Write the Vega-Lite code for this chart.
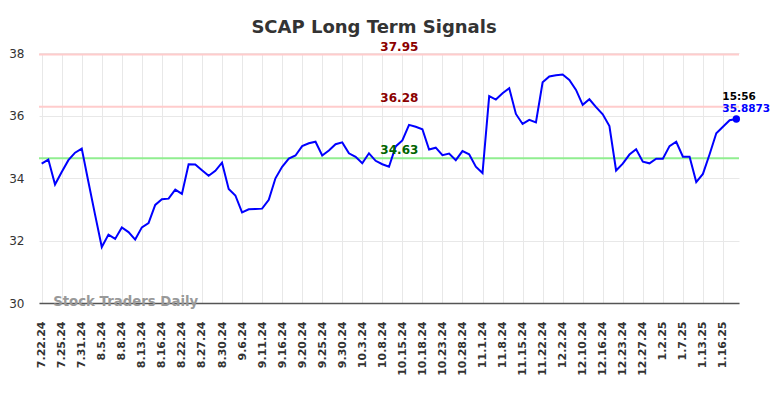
{
  "$schema": "https://vega.github.io/schema/vega-lite/v6.json",
  "width": 700,
  "height": 250,
  "autosize": "none",
  "padding": {"left": 39, "top": 53, "right": 45, "bottom": 95},
  "background": "white",
  "config": {"font": "DejaVu Sans", "view": {"stroke": null}},
  "title": {"text": "SCAP Long Term Signals", "fontSize": 18, "fontWeight": "bold", "color": "#333333", "anchor": "middle", "dx": -15, "offset": -10, "baseline": "alphabetic"},
  "datasets": {
    "series": [
      {"d": "7.22.24", "v": 34.46}, {"d": "7.23.24", "v": 34.59}, {"d": "7.24.24", "v": 33.79},
      {"d": "7.25.24", "v": 34.19}, {"d": "7.26.24", "v": 34.57}, {"d": "7.29.24", "v": 34.81},
      {"d": "7.31.24", "v": 34.94}, {"d": "8.1.24", "v": 33.87}, {"d": "8.2.24", "v": 32.82},
      {"d": "8.5.24", "v": 31.79}, {"d": "8.6.24", "v": 32.19}, {"d": "8.7.24", "v": 32.05},
      {"d": "8.8.24", "v": 32.42}, {"d": "8.9.24", "v": 32.27}, {"d": "8.12.24", "v": 32.03},
      {"d": "8.13.24", "v": 32.42}, {"d": "8.14.24", "v": 32.56}, {"d": "8.15.24", "v": 33.14},
      {"d": "8.16.24", "v": 33.32}, {"d": "8.19.24", "v": 33.34}, {"d": "8.20.24", "v": 33.63},
      {"d": "8.22.24", "v": 33.49}, {"d": "8.23.24", "v": 34.44}, {"d": "8.26.24", "v": 34.43},
      {"d": "8.27.24", "v": 34.25}, {"d": "8.28.24", "v": 34.07}, {"d": "8.29.24", "v": 34.23},
      {"d": "8.30.24", "v": 34.49}, {"d": "9.3.24", "v": 33.65}, {"d": "9.4.24", "v": 33.44},
      {"d": "9.6.24", "v": 32.90}, {"d": "9.9.24", "v": 33.00}, {"d": "9.10.24", "v": 33.01},
      {"d": "9.11.24", "v": 33.02}, {"d": "9.12.24", "v": 33.30}, {"d": "9.13.24", "v": 33.99},
      {"d": "9.16.24", "v": 34.36}, {"d": "9.17.24", "v": 34.62}, {"d": "9.18.24", "v": 34.72},
      {"d": "9.20.24", "v": 35.02}, {"d": "9.23.24", "v": 35.11}, {"d": "9.24.24", "v": 35.16},
      {"d": "9.25.24", "v": 34.72}, {"d": "9.26.24", "v": 34.88}, {"d": "9.27.24", "v": 35.08},
      {"d": "9.30.24", "v": 35.14}, {"d": "10.1.24", "v": 34.79}, {"d": "10.2.24", "v": 34.68},
      {"d": "10.3.24", "v": 34.47}, {"d": "10.4.24", "v": 34.79}, {"d": "10.7.24", "v": 34.55},
      {"d": "10.8.24", "v": 34.44}, {"d": "10.10.24", "v": 34.36}, {"d": "10.11.24", "v": 35.01},
      {"d": "10.15.24", "v": 35.20}, {"d": "10.16.24", "v": 35.70}, {"d": "10.17.24", "v": 35.64},
      {"d": "10.18.24", "v": 35.56}, {"d": "10.21.24", "v": 34.91}, {"d": "10.22.24", "v": 34.97},
      {"d": "10.23.24", "v": 34.73}, {"d": "10.24.24", "v": 34.78}, {"d": "10.25.24", "v": 34.57},
      {"d": "10.28.24", "v": 34.86}, {"d": "10.29.24", "v": 34.76}, {"d": "10.31.24", "v": 34.36},
      {"d": "11.1.24", "v": 34.16}, {"d": "11.6.24", "v": 36.62}, {"d": "11.7.24", "v": 36.51},
      {"d": "11.8.24", "v": 36.71}, {"d": "11.12.24", "v": 36.87}, {"d": "11.14.24", "v": 36.05},
      {"d": "11.15.24", "v": 35.73}, {"d": "11.19.24", "v": 35.86}, {"d": "11.21.24", "v": 35.78},
      {"d": "11.22.24", "v": 37.06}, {"d": "11.26.24", "v": 37.25}, {"d": "11.27.24", "v": 37.29},
      {"d": "12.2.24", "v": 37.31}, {"d": "12.4.24", "v": 37.14}, {"d": "12.6.24", "v": 36.82},
      {"d": "12.10.24", "v": 36.34}, {"d": "12.11.24", "v": 36.52}, {"d": "12.13.24", "v": 36.27},
      {"d": "12.16.24", "v": 36.04}, {"d": "12.18.24", "v": 35.66}, {"d": "12.20.24", "v": 34.24},
      {"d": "12.23.24", "v": 34.46}, {"d": "12.24.24", "v": 34.75}, {"d": "12.26.24", "v": 34.92},
      {"d": "12.27.24", "v": 34.52}, {"d": "12.30.24", "v": 34.47}, {"d": "12.31.24", "v": 34.62},
      {"d": "1.2.25", "v": 34.62}, {"d": "1.3.25", "v": 35.02}, {"d": "1.6.25", "v": 35.16},
      {"d": "1.7.25", "v": 34.68}, {"d": "1.8.25", "v": 34.68}, {"d": "1.10.25", "v": 33.87},
      {"d": "1.13.25", "v": 34.13}, {"d": "1.14.25", "v": 34.76}, {"d": "1.15.25", "v": 35.43},
      {"d": "1.16.25", "v": 35.64}, {"d": "1.17.25", "v": 35.85}, {"d": "1.21.25", "v": 35.8873}
    ],
    "levels": [
      {"level": 37.95, "kind": "upper"},
      {"level": 36.28, "kind": "middle"},
      {"level": 34.63, "kind": "lower"}
    ]
  },
  "layer": [
    {
      "data": {"name": "levels"},
      "mark": {"type": "rule", "strokeWidth": 2},
      "encoding": {
        "y": {"field": "level", "type": "quantitative", "scale": {"domain": [30, 38], "nice": false, "zero": false}},
        "color": {"field": "kind", "type": "nominal", "scale": {"domain": ["upper", "middle", "lower"], "range": ["#ffcccc", "#ffcccc", "#90ee90"]}, "legend": null}
      }
    },
    {
      "data": {"name": "series"},
      "mark": {"type": "line", "color": "#0000ff", "strokeWidth": 2},
      "encoding": {
        "x": {
          "field": "d", "type": "ordinal", "sort": null,
          "scale": {"type": "point", "padding": 0.4},
          "axis": {
            "title": null,
            "values": ["7.22.24", "7.25.24", "7.31.24", "8.5.24", "8.8.24", "8.13.24", "8.16.24", "8.22.24", "8.27.24", "8.30.24", "9.6.24", "9.11.24", "9.16.24", "9.20.24", "9.25.24", "9.30.24", "10.3.24", "10.8.24", "10.15.24", "10.18.24", "10.23.24", "10.28.24", "11.1.24", "11.8.24", "11.15.24", "11.22.24", "12.2.24", "12.10.24", "12.16.24", "12.23.24", "12.27.24", "1.2.25", "1.7.25", "1.13.25", "1.16.25"],
            "labelAngle": -90, "labelFontSize": 11, "labelFontWeight": "bold", "labelColor": "#333333",
            "labelPadding": 18, "ticks": false, "domainColor": "#555555", "domainWidth": 1.5,
            "grid": true, "gridColor": "#e8e8e8", "gridWidth": 1
          }
        },
        "y": {
          "field": "v", "type": "quantitative",
          "scale": {"domain": [30, 38], "nice": false, "zero": false},
          "axis": {"title": null, "values": [30, 32, 34, 36, 38], "domain": false, "ticks": false, "labelFontSize": 12, "labelColor": "#333333", "labelPadding": 15, "grid": true, "gridColor": "#e8e8e8"}
        }
      }
    },
    {
      "data": {"name": "series"},
      "transform": [{"filter": "datum.d == '1.21.25'"}],
      "mark": {"type": "circle", "color": "#0000ff", "opacity": 1, "size": 55},
      "encoding": {
        "x": {"field": "d", "type": "ordinal", "sort": null},
        "y": {"field": "v", "type": "quantitative"}
      }
    },
    {
      "data": {"name": "series"},
      "transform": [{"filter": "datum.d == '1.21.25'"}],
      "mark": {"type": "text", "align": "left", "baseline": "alphabetic", "dx": -14, "dy": -19, "fontSize": 10.5, "fontWeight": "bold", "color": "#000000"},
      "encoding": {
        "x": {"field": "d", "type": "ordinal", "sort": null},
        "y": {"field": "v", "type": "quantitative"},
        "text": {"value": "15:56"}
      }
    },
    {
      "data": {"name": "series"},
      "transform": [{"filter": "datum.d == '1.21.25'"}],
      "mark": {"type": "text", "align": "left", "baseline": "alphabetic", "dx": -14, "dy": -7, "fontSize": 10.5, "fontWeight": "bold", "color": "#0000ff"},
      "encoding": {
        "x": {"field": "d", "type": "ordinal", "sort": null},
        "y": {"field": "v", "type": "quantitative"},
        "text": {"field": "v", "type": "quantitative", "format": ".4f"}
      }
    },
    {
      "data": {"name": "series"},
      "transform": [{"filter": "datum.d == '10.15.24'"}],
      "mark": {"type": "text", "align": "center", "baseline": "alphabetic", "dx": -3, "dy": -4, "fontSize": 12, "fontWeight": "bold", "color": "#8b0000"},
      "encoding": {
        "x": {"field": "d", "type": "ordinal", "sort": null},
        "y": {"datum": 37.95, "type": "quantitative"},
        "text": {"value": "37.95"}
      }
    },
    {
      "data": {"name": "series"},
      "transform": [{"filter": "datum.d == '10.15.24'"}],
      "mark": {"type": "text", "align": "center", "baseline": "alphabetic", "dx": -3, "dy": -5, "fontSize": 12, "fontWeight": "bold", "color": "#8b0000"},
      "encoding": {
        "x": {"field": "d", "type": "ordinal", "sort": null},
        "y": {"datum": 36.28, "type": "quantitative"},
        "text": {"value": "36.28"}
      }
    },
    {
      "data": {"name": "series"},
      "transform": [{"filter": "datum.d == '10.15.24'"}],
      "mark": {"type": "text", "align": "center", "baseline": "alphabetic", "dx": -3, "dy": -4, "fontSize": 12, "fontWeight": "bold", "color": "#006400"},
      "encoding": {
        "x": {"field": "d", "type": "ordinal", "sort": null},
        "y": {"datum": 34.63, "type": "quantitative"},
        "text": {"value": "34.63"}
      }
    },
    {
      "data": {"name": "series"},
      "transform": [{"filter": "datum.d == '7.22.24'"}],
      "mark": {"type": "text", "align": "left", "baseline": "alphabetic", "dx": 11.5, "dy": 3, "fontSize": 13.3, "fontWeight": "bold", "color": "#999999"},
      "encoding": {
        "x": {"field": "d", "type": "ordinal", "sort": null},
        "y": {"datum": 30, "type": "quantitative"},
        "text": {"value": "Stock Traders Daily"}
      }
    }
  ]
}
